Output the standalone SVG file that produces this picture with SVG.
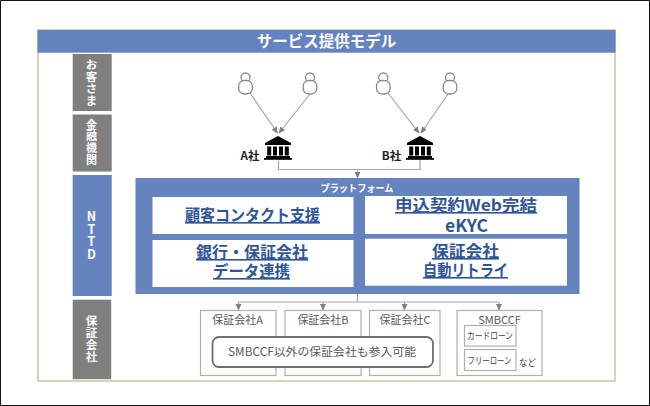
<svg xmlns="http://www.w3.org/2000/svg" width="650" height="406" viewBox="0 0 650 406">
<defs>
<style>
text{font-family:"Noto Sans CJK JP","Noto Sans",sans-serif;text-anchor:middle}
.side{fill:#fff;font-weight:700;font-size:11.500px;letter-spacing:.5px;writing-mode:vertical-rl;text-orientation:upright}
.blue{fill:#6583bf}
.gray{fill:#7f7f7f}
.card{fill:#fff}
.title{fill:#2f5597;font-size:16px;font-weight:700;text-decoration:underline}
.box{fill:#fff;stroke:#afafaf;stroke-width:1.2}
.lab{fill:#595959;font-size:11px}
.small{fill:#404040;font-size:9.500px}
.conn{fill:none;stroke:#a6a6a6;stroke-width:1.2}
.person{fill:#fff;stroke:#8a8a8a;stroke-width:1.3}
.bank{fill:#000}
.co{fill:#222;font-size:11.500px;font-weight:700}
</style>
<marker id="ah" markerUnits="userSpaceOnUse" markerWidth="8" markerHeight="7" refX="6" refY="3.5" orient="auto"><path d="M0 0.500L6.500 3.500L0 6.500Z" fill="#7f7f7f"/></marker>
<g id="p"><circle cx="0" cy="-6.500" r="4.500" class="person"/><rect x="-6.800" y="-3.500" width="13.600" height="13.500" rx="5.500" class="person"/></g>
<g id="b"><path class="bank" d="M0 -10.500L13 -3.500V-1.500H-13V-3.500Z"/><rect class="bank" x="-10.800" y="0" width="4" height="9"/><rect class="bank" x="-5" y="0" width="4" height="9"/><rect class="bank" x="1" y="0" width="4" height="9"/><rect class="bank" x="6.800" y="0" width="4" height="9"/><rect class="bank" x="-12" y="9.500" width="24" height="2"/><rect class="bank" x="-14" y="11.500" width="28" height="1.800"/></g>
</defs>
<rect width="650" height="406" fill="#fff"/>
<path d="M.5 406V.5H649.5V405.5H0" fill="none" stroke="#111" stroke-width="1"/>
<g id="frame">
<rect x="38" y="30" width="577" height="351" fill="#fff" stroke="#b5b78f" stroke-width="1.200"/>
<rect class="blue" x="37.500" y="30" width="578" height="22.700"/>
<text x="326.500" y="47" fill="#fff" font-size="15.500" font-weight="700">サービス提供モデル</text>
</g>
<g id="side-customer"><rect class="gray" x="72.700" y="54" width="39" height="57"/><text class="side" x="91.500" y="82.500">お客さま</text></g>
<g id="side-bank"><rect class="gray" x="72.700" y="114.500" width="39" height="57"/><text class="side" style="font-size:11px;letter-spacing:.7px" x="91.500" y="142.500">金融機関</text></g>
<g id="side-nttd"><rect class="blue" x="72.700" y="175" width="39" height="121"/><text class="side" style="font-size:12.500px;letter-spacing:0" x="91.500" y="235">NTTD</text></g>
<g id="side-guarantor"><rect class="gray" x="72.700" y="299.700" width="38.500" height="79.500"/><text class="side" x="91.500" y="338.500">保証会社</text></g>
<g id="connectors">
<path class="conn" marker-end="url(#ah)" d="M250 93L277.500 133"/>
<path class="conn" marker-end="url(#ah)" d="M310 94L279 133"/>
<path class="conn" marker-end="url(#ah)" d="M388 93L419 133"/>
<path class="conn" marker-end="url(#ah)" d="M448 94L421 133"/>
<path class="conn" d="M278.500 161V169.500H420V160"/>
<path class="conn" marker-end="url(#ah)" d="M357.500 169.500V178"/>
<path class="conn" d="M357.500 294V302"/>
<path class="conn" d="M238.500 302H499"/>
<path class="conn" marker-end="url(#ah)" d="M238.500 302V310"/>
<path class="conn" marker-end="url(#ah)" d="M323 302V310"/>
<path class="conn" marker-end="url(#ah)" d="M404.500 302V310"/>
<path class="conn" marker-end="url(#ah)" d="M499 302V310"/>
</g>
<g id="person-1"><use href="#p" x="245.500" y="84"/></g>
<g id="person-2"><use href="#p" x="310" y="84"/></g>
<g id="person-3"><use href="#p" x="383.300" y="84"/></g>
<g id="person-4"><use href="#p" x="450" y="84"/></g>
<g id="bank-a"><use href="#b" x="278" y="146.500"/><text class="co" x="250" y="160">A社</text></g>
<g id="bank-b"><use href="#b" x="420" y="146.500"/><text class="co" x="391.500" y="160">B社</text></g>
<g id="platform"><rect class="blue" x="135.500" y="178" width="444" height="116"/><text x="357" y="192" fill="#fff" font-size="10" font-weight="700" textLength="73" lengthAdjust="spacingAndGlyphs">プラットフォーム</text></g>
<g id="svc-1"><rect class="card" x="152.500" y="197" width="201" height="37"/><text class="title" x="252.500" y="221" textLength="135" lengthAdjust="spacingAndGlyphs">顧客コンタクト支援</text></g>
<g id="svc-2"><rect class="card" x="365" y="196" width="202" height="38"/><text class="title" x="466" y="211" textLength="142" lengthAdjust="spacingAndGlyphs">申込契約Web完結</text><text class="title" x="466.500" y="232" style="text-decoration:none;font-size:17.500px">eKYC</text></g>
<g id="svc-3"><rect class="card" x="152.500" y="240" width="201" height="47"/><text class="title" x="252" y="258" textLength="112" lengthAdjust="spacingAndGlyphs">銀行・保証会社</text><text class="title" x="251.500" y="277" textLength="77" lengthAdjust="spacingAndGlyphs">データ連携</text></g>
<g id="svc-4"><rect class="card" x="365" y="238.700" width="202" height="47"/><text class="title" x="465.500" y="257" textLength="67" lengthAdjust="spacingAndGlyphs">保証会社</text><text class="title" x="465.500" y="276" textLength="85" lengthAdjust="spacingAndGlyphs">自動リトライ</text></g>
<g id="co-a"><rect class="box" x="200.500" y="310.500" width="75.500" height="65"/><text class="lab" x="237.500" y="324">保証会社A</text></g>
<g id="co-b"><rect class="box" x="285" y="310.500" width="76" height="65"/><text class="lab" x="323" y="324">保証会社B</text></g>
<g id="co-c"><rect class="box" x="369.500" y="310.500" width="70.500" height="65"/><text class="lab" x="405" y="324">保証会社C</text></g>
<g id="note"><rect x="212.500" y="337" width="220.500" height="30" rx="6.500" fill="#fff" stroke="#6e6e6e" stroke-width="1.800"/><text x="322" y="356" fill="#595959" font-size="11.500" textLength="188" lengthAdjust="spacingAndGlyphs">SMBCCF以外の保証会社も参入可能</text></g>
<g id="smbccf"><rect class="box" x="457" y="310.500" width="85" height="65"/><text class="lab" x="499.500" y="324">SMBCCF</text><rect class="box" x="464.500" y="325.500" width="51.500" height="20.500"/><text class="small" x="490" y="339" textLength="46" lengthAdjust="spacingAndGlyphs">カードローン</text><rect class="box" x="464.500" y="349.500" width="51.500" height="21"/><text class="small" x="489.500" y="364" textLength="44" lengthAdjust="spacingAndGlyphs">フリーローン</text><text class="small" x="527.500" y="366" textLength="17" lengthAdjust="spacingAndGlyphs">など</text></g>
</svg>
